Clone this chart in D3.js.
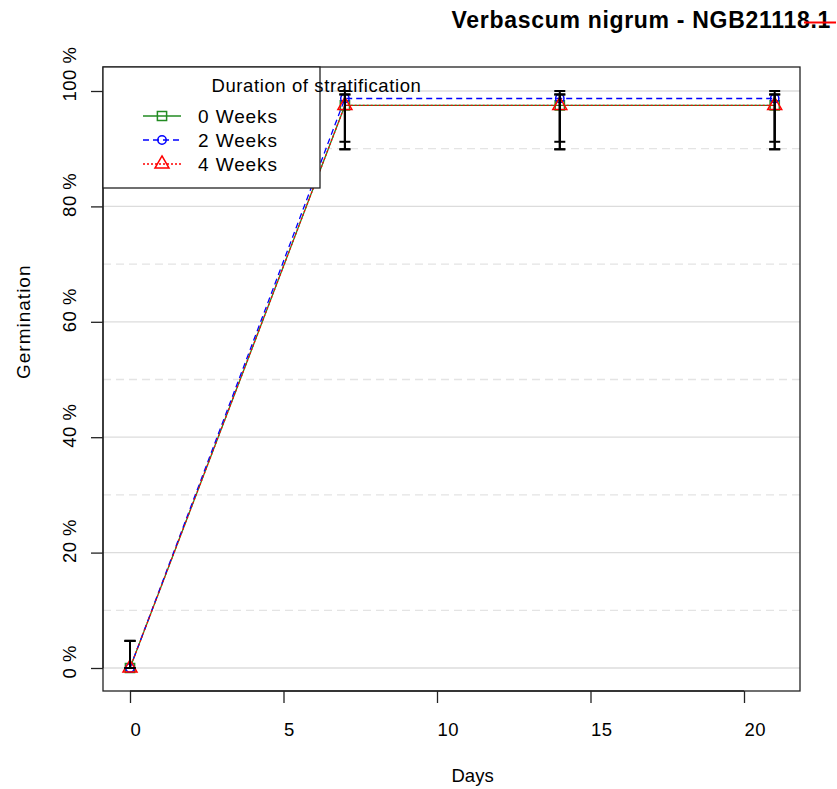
<!DOCTYPE html>
<html lang="en">
<head>
<meta charset="utf-8">
<title>Verbascum nigrum germination</title>
<script src="https://d3js.org/d3.v7.min.js"></script>
<style>
  body { margin: 0; background: #fff; }
  svg text { font-family: "Liberation Sans", Arial, sans-serif; fill: #000; }
</style>
</head>
<body>
<div id="chart"></div>
<script>
var width = 837, height = 789;

// data
var days = [0, 7, 14, 21];
var seriesNames = ["0 Weeks", "2 Weeks", "4 Weeks"];
var germ0 = [0, 97.5, 97.5, 97.5];
var germ2 = [0, 98.7, 98.7, 98.7];
var germ4 = [0, 97.5, 97.5, 97.5];
// confidence limits (low / high)
var low0 = [0, 89.9, 89.9, 89.9], high0 = [4.7, 99.4, 99.4, 99.4];
var low2 = [0, 91.2, 91.2, 91.2], high2 = [4.7, 100, 100, 100];
var low4 = [0, 89.9, 89.9, 89.9], high4 = [4.7, 99.4, 99.4, 99.4];
var xTicks = [0, 5, 10, 15, 20];
var yTicks = [0, 20, 40, 60, 80, 100];
var yMinor = [10, 30, 50, 70, 90];

var colors = ["#228B22", "#0000FF", "#FF0000"];
var dashes = [null, "6,4", "2,2"];
var shapes = [d3.symbolSquare, d3.symbolCircle, d3.symbolTriangle];

var series = [
  {name: seriesNames[0], vals: germ0, lo: low0, hi: high0},
  {name: seriesNames[1], vals: germ2, lo: low2, hi: high2},
  {name: seriesNames[2], vals: germ4, lo: low4, hi: high4}
];

var box = {left: 103, right: 800, top: 67, bottom: 691};

var x = d3.scaleLinear().domain([0, 20]).range([130, 744]);
var y = d3.scaleLinear().domain([0, 100]).range([668, 91]);

var svg = d3.select("#chart").append("svg")
  .attr("width", width).attr("height", height);

// grid
svg.append("g").selectAll("line").data(yTicks).enter().append("line")
  .attr("x1", box.left).attr("x2", box.right)
  .attr("y1", function(d) { return y(d); }).attr("y2", function(d) { return y(d); })
  .attr("stroke", "#dcdcdc").attr("stroke-width", 1.3);
svg.append("g").selectAll("line").data(yMinor).enter().append("line")
  .attr("x1", box.left).attr("x2", box.right)
  .attr("y1", function(d) { return y(d); }).attr("y2", function(d) { return y(d); })
  .attr("stroke", "#e4e4e4").attr("stroke-width", 1.3).attr("stroke-dasharray", "8,5");

// series lines
var line = d3.line()
  .x(function(d, i) { return x(days[i]); })
  .y(function(d) { return y(d); });

series.forEach(function(s, k) {
  svg.append("path")
    .attr("d", line(s.vals))
    .attr("fill", "none")
    .attr("stroke", colors[k])
    .attr("stroke-width", 1.3)
    .attr("stroke-dasharray", dashes[k]);
});

// markers
series.forEach(function(s, k) {
  svg.append("g").selectAll("path").data(s.vals).enter().append("path")
    .attr("transform", function(d, i) { return "translate(" + x(days[i]) + "," + y(d) + ")"; })
    .attr("d", d3.symbol().type(shapes[k]).size(k == 1 ? 55 : 85))
    .attr("fill", "none")
    .attr("stroke", colors[k])
    .attr("stroke-width", 1.5);
});

// error bars
var cap = 5.5;
series.forEach(function(s, k) {
  var g = svg.append("g").attr("stroke", "#000").attr("stroke-width", 2);
  s.vals.forEach(function(v, i) {
    var cx = x(days[i]);
    g.append("line").attr("x1", cx).attr("x2", cx).attr("y1", y(s.lo[i])).attr("y2", y(s.hi[i]));
    g.append("line").attr("x1", cx - cap).attr("x2", cx + cap).attr("y1", y(s.lo[i])).attr("y2", y(s.lo[i]));
    g.append("line").attr("x1", cx - cap).attr("x2", cx + cap).attr("y1", y(s.hi[i])).attr("y2", y(s.hi[i]));
  });
});

// plot box
svg.append("rect")
  .attr("x", box.left).attr("y", box.top)
  .attr("width", box.right - box.left).attr("height", box.bottom - box.top)
  .attr("fill", "none").attr("stroke", "#222").attr("stroke-width", 1.3);

// x axis
var xAxis = svg.append("g").attr("transform", "translate(0," + box.bottom + ")")
  .call(d3.axisBottom(x).tickValues(xTicks).tickSize(12).tickFormat(d3.format("d")));
xAxis.select(".domain").attr("d", "M" + x(0) + ",0H" + x(20)).attr("stroke", "#222").attr("stroke-width", 1.3);
xAxis.selectAll(".tick line").attr("stroke", "#222").attr("stroke-width", 1.3);
xAxis.selectAll(".tick text")
  .attr("text-anchor", "start").attr("dy", null).attr("y", 45)
  .style("font-size", "18.5px").style("letter-spacing", "0.5px")
  .style("font-family", "Liberation Sans, Arial, sans-serif");

// y axis
var yAxis = svg.append("g").attr("transform", "translate(" + box.left + ",0)")
  .call(d3.axisLeft(y).tickValues(yTicks).tickSize(12).tickFormat(function(d) { return d + " %"; }));
yAxis.select(".domain").attr("d", "M0," + y(0) + "V" + y(100)).attr("stroke", "#222").attr("stroke-width", 1.3);
yAxis.selectAll(".tick line").attr("stroke", "#222").attr("stroke-width", 1.3);
yAxis.selectAll(".tick text")
  .attr("text-anchor", "start").attr("x", null).attr("dy", null)
  .attr("transform", "translate(-27,10) rotate(-90)")
  .style("font-size", "18.5px").style("letter-spacing", "0.5px")
  .style("font-family", "Liberation Sans, Arial, sans-serif");

// axis titles
svg.append("text").attr("x", (box.left + box.right) / 2).attr("y", 782)
  .attr("text-anchor", "start").style("font-size", "18.5px").text("Days");
svg.append("text").attr("transform", "translate(30," + ((box.top + box.bottom) / 2) + ") rotate(-90)")
  .attr("text-anchor", "start").style("font-size", "19px").style("letter-spacing", "1px")
  .text("Germination");

// main title
svg.append("text").attr("x", (box.left + box.right) / 2).attr("y", 28)
  .attr("text-anchor", "start").style("font-size", "23px").style("font-weight", "bold")
  .style("letter-spacing", "0.7px")
  .text("Verbascum nigrum - NGB21118.1");
svg.append("line").attr("x1", 804).attr("x2", 836).attr("y1", 22.5).attr("y2", 22.5)
  .attr("stroke", "#FF0000").attr("stroke-width", 2);

// legend
var lg = svg.append("g");
lg.append("rect").attr("x", box.left).attr("y", box.top).attr("width", 217).attr("height", 121)
  .attr("fill", "#fff").attr("stroke", "#222").attr("stroke-width", 1.3);
lg.append("text").attr("x", (box.left + 320) / 2).attr("y", 92)
  .attr("text-anchor", "start").style("font-size", "18.5px").style("letter-spacing", "0.6px")
  .text("Duration of stratification");
series.forEach(function(s, k) {
  var ly = 116 + k * 24;
  lg.append("line").attr("x1", 143).attr("x2", 181).attr("y1", ly).attr("y2", ly)
    .attr("stroke", colors[k]).attr("stroke-width", 1.3).attr("stroke-dasharray", dashes[k]);
  lg.append("path").attr("transform", "translate(162," + ly + ")")
    .attr("d", d3.symbol().type(shapes[k]).size(k == 1 ? 55 : 85))
    .attr("fill", "none").attr("stroke", colors[k]).attr("stroke-width", 1.5);
  lg.append("text").attr("x", 198).attr("y", ly + 7)
    .style("font-size", "19px").style("letter-spacing", "0.9px").text(s.name);
});
</script>
</body>
</html>
